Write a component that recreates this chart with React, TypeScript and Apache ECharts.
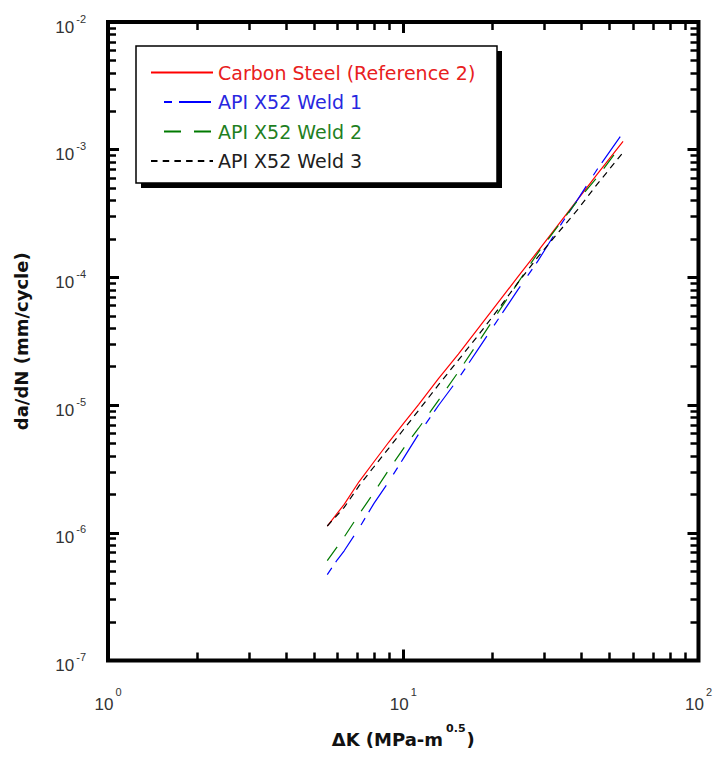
import React, { useEffect, useRef } from 'react';
import * as echarts from 'echarts';

// ---- Data ----
const seriesNames = ['Carbon Steel (Reference 2)', 'API X52 Weld 1', 'API X52 Weld 2', 'API X52 Weld 3'];
const seriesColors = ['#ff0000', '#0000ff', '#007a00', '#000000'];
const legendTextColors = ['#e82020', '#2828e0', '#1f7f1f', '#202020'];

const carbonDK = [5.53, 6.31, 7.09, 7.96, 8.94, 10.04, 11.27, 13.16, 15.37, 17.94, 20.94, 24.44, 28.55, 33.32, 38.9, 45.41, 55.53];
const carbonDaDN = [1.13e-6, 1.67e-6, 2.52e-6, 3.6e-6, 5.14e-6, 7.21e-6, 1.01e-5, 1.61e-5, 2.51e-5, 3.99e-5, 6.34e-5, 1.01e-4, 1.6e-4, 2.54e-4, 4.05e-4, 6.43e-4, 1.16e-3];

const weld1DK = [5.53, 5.98, 6.31, 7.09, 7.96, 8.94, 10.04, 11.27, 13.16, 15.37, 17.94, 20.94, 24.44, 28.55, 33.32, 38.9, 45.41, 55.53];
const weld1DaDN = [4.71e-7, 6.15e-7, 7.23e-7, 1.09e-6, 1.7e-6, 2.52e-6, 3.86e-6, 5.92e-6, 9.93e-6, 1.61e-5, 2.74e-5, 4.68e-5, 7.98e-5, 1.34e-4, 2.37e-4, 4.05e-4, 7.03e-4, 1.36e-3];

const weld2DK = [5.53, 6.31, 7.09, 7.96, 8.94, 10.04, 11.27, 13.16, 15.37, 17.94, 20.94, 24.44, 28.55, 33.32, 38.9, 45.41, 54.67];
const weld2DaDN = [6.05e-7, 9.28e-7, 1.4e-6, 2.07e-6, 3.12e-6, 4.61e-6, 6.59e-6, 1.09e-5, 1.82e-5, 3.1e-5, 5.3e-5, 9.05e-5, 1.55e-4, 2.5e-4, 3.97e-4, 6.09e-4, 1.08e-3];

const weld3DK = [5.53, 6.31, 7.09, 7.96, 8.94, 10.04, 11.27, 13.16, 15.37, 17.94, 20.94, 24.44, 28.55, 33.32, 38.9, 45.41, 55.53];
const weld3DaDN = [1.13e-6, 1.58e-6, 2.34e-6, 3.29e-6, 4.61e-6, 6.47e-6, 9.08e-6, 1.44e-5, 2.25e-5, 3.52e-5, 5.6e-5, 9.05e-5, 1.44e-4, 2.21e-4, 3.38e-4, 5.38e-4, 9.51e-4];

// Axis ticks and labels
const xLabelValues = [1, 10, 100];
const yLabelValues = [1e-7, 1e-6, 1e-5, 1e-4, 1e-3, 1e-2];
const xMajorTicks = [10];
const xMinorTicks = [2, 3, 4, 5, 6, 7, 8, 9, 20, 30, 40, 50, 60, 70, 80, 90];
const yMajorTicks = [1e-6, 1e-5, 1e-4, 1e-3];
const yMinorTicks = [
  2e-7, 3e-7, 4e-7, 5e-7, 6e-7, 7e-7, 8e-7, 9e-7,
  2e-6, 3e-6, 4e-6, 5e-6, 6e-6, 7e-6, 8e-6, 9e-6,
  2e-5, 3e-5, 4e-5, 5e-5, 6e-5, 7e-5, 8e-5, 9e-5,
  2e-4, 3e-4, 4e-4, 5e-4, 6e-4, 7e-4, 8e-4, 9e-4,
  2e-3, 3e-3, 4e-3, 5e-3, 6e-3, 7e-3, 8e-3, 9e-3,
];

const X_MIN = 1, X_MAX = 100, Y_MIN = 1e-7, Y_MAX = 1e-2;

const zip = (xs: number[], ys: number[]) => xs.map((x, i) => [x, ys[i]]);

const labelFont = 'Liberation Sans, Arial, sans-serif';
const titleFont = 'DejaVu Sans, sans-serif';

function expLabel(value: number) {
  const e = Math.round(Math.log10(value));
  return '{b|10}{s|' + e + '}';
}

const MINOR_LEN = 8, MAJOR_LEN = 11;

function tickOnlyAxis(kind: 'x' | 'y', position: string, values: number[], major: boolean) {
  return {
    type: 'log', logBase: 10,
    min: kind === 'x' ? X_MIN : Y_MIN,
    max: kind === 'x' ? X_MAX : Y_MAX,
    position,
    axisLine: { show: false },
    splitLine: { show: false },
    axisLabel: { show: false },
    axisTick: {
      show: true, inside: true,
      length: major ? MAJOR_LEN : MINOR_LEN,
      customValues: values,
      lineStyle: { color: '#000', width: major ? 3 : 2.5 },
    },
  };
}

export default function App() {
  const ref = useRef<HTMLDivElement>(null);
  useEffect(() => {
    const chart = echarts.init(ref.current!, null, { renderer: 'svg' });
    const lineData = [
      zip(carbonDK, carbonDaDN),
      zip(weld1DK, weld1DaDN),
      zip(weld2DK, weld2DaDN),
      zip(weld3DK, weld3DaDN),
    ];
    const dashes: any[] = ['solid', [8, 7, 32, 13], [17, 13], [6.5, 5.2]];
    const legendDashOffsets = [0, 47, 17, 0];

    const option: any = {
      animation: false,
      backgroundColor: '#fff',
      grid: {
        left: 108, top: 22, width: 594, height: 646,
        show: true, borderColor: '#000', borderWidth: 4, backgroundColor: 'transparent',
      },
      xAxis: [
        {
          type: 'log', logBase: 10, min: X_MIN, max: X_MAX, position: 'bottom',
          axisLine: { show: false }, splitLine: { show: false },
          axisTick: {
            show: true, inside: true, length: MINOR_LEN, customValues: xMinorTicks,
            lineStyle: { color: '#000', width: 2.5 },
          },
          axisLabel: {
            showMinLabel: true, showMaxLabel: true, margin: 30,
            customValues: xLabelValues,
            formatter: expLabel,
            rich: {
              b: { fontSize: 17, fontFamily: labelFont, color: '#333', lineHeight: 18, padding: [10, 0, 0, 0] },
              s: { fontSize: 11, fontFamily: labelFont, color: '#333', lineHeight: 12, padding: [0, 0, 16, 2] },
            },
          },
          name: '{t|ΔK (MPa-m}{s|0.5}{t|)}',
          nameLocation: 'middle', nameGap: 68,
          nameTextStyle: {
            rich: {
              t: { fontSize: 18, fontWeight: 'bold', fontFamily: titleFont, color: '#111', lineHeight: 22 },
              s: { fontSize: 11, fontWeight: 'bold', fontFamily: titleFont, color: '#111', lineHeight: 12, padding: [0, 1, 22, 3] },
            },
          },
        },
        tickOnlyAxis('x', 'bottom', xMajorTicks, true),
        tickOnlyAxis('x', 'top', xMinorTicks, false),
        tickOnlyAxis('x', 'top', xMajorTicks, true),
      ],
      yAxis: [
        {
          type: 'log', logBase: 10, min: Y_MIN, max: Y_MAX, position: 'left',
          axisLine: { show: false }, splitLine: { show: false },
          axisTick: {
            show: true, inside: true, length: MINOR_LEN, customValues: yMinorTicks,
            lineStyle: { color: '#000', width: 2.5 },
          },
          axisLabel: {
            showMinLabel: true, showMaxLabel: true, margin: 22,
            customValues: yLabelValues,
            formatter: expLabel,
            rich: {
              b: { fontSize: 17, fontFamily: labelFont, color: '#333', lineHeight: 18, padding: [10, 0, 0, 0] },
              s: { fontSize: 11, fontFamily: labelFont, color: '#333', lineHeight: 12, padding: [4.5, 0, 11.5, 2] },
            },
          },
          name: 'da/dN (mm/cycle)',
          nameLocation: 'middle', nameGap: 78,
          nameTextStyle: { fontSize: 18, fontWeight: 'bold', fontFamily: titleFont, color: '#111' },
        },
        tickOnlyAxis('y', 'left', yMajorTicks, true),
        tickOnlyAxis('y', 'right', yMinorTicks, false),
        tickOnlyAxis('y', 'right', yMajorTicks, true),
      ],
      legend: {
        orient: 'vertical', left: 150, top: 63, padding: 0,
        itemWidth: 62, itemHeight: 14, itemGap: 10.5,
        selectedMode: false,
        itemStyle: { opacity: 0 },
        textStyle: { fontFamily: titleFont, fontSize: 19, lineHeight: 19 },
        data: seriesNames.map((n, i) => ({
          name: n,
          textStyle: { color: legendTextColors[i] },
          itemStyle: { opacity: 0 },
          lineStyle: { dashOffset: legendDashOffsets[i] },
        })),
      },
      graphic: [
        { type: 'rect', z: 0, shape: { x: 141, y: 51, width: 361, height: 137 }, style: { fill: '#000' } },
        { type: 'rect', z: 1, shape: { x: 136, y: 46, width: 361, height: 137 }, style: { fill: '#fff', stroke: '#000', lineWidth: 1.5 } },
      ],
      series: seriesNames.map((n, i) => ({
        name: n,
        type: 'line',
        xAxisIndex: 0,
        yAxisIndex: 0,
        data: lineData[i],
        symbol: 'none',
        showSymbol: false,
        z: 3 + i,
        lineStyle: { color: seriesColors[i], width: 1.2, type: dashes[i] },
        itemStyle: { color: seriesColors[i] },
      })),
    };
    chart.setOption(option);
    return () => chart.dispose();
  }, []);
  return (
    <div
      ref={ref}
      style={{ position: 'absolute', left: 0, top: 0, width: 715, height: 761, background: '#fff' }}
    />
  );
}
